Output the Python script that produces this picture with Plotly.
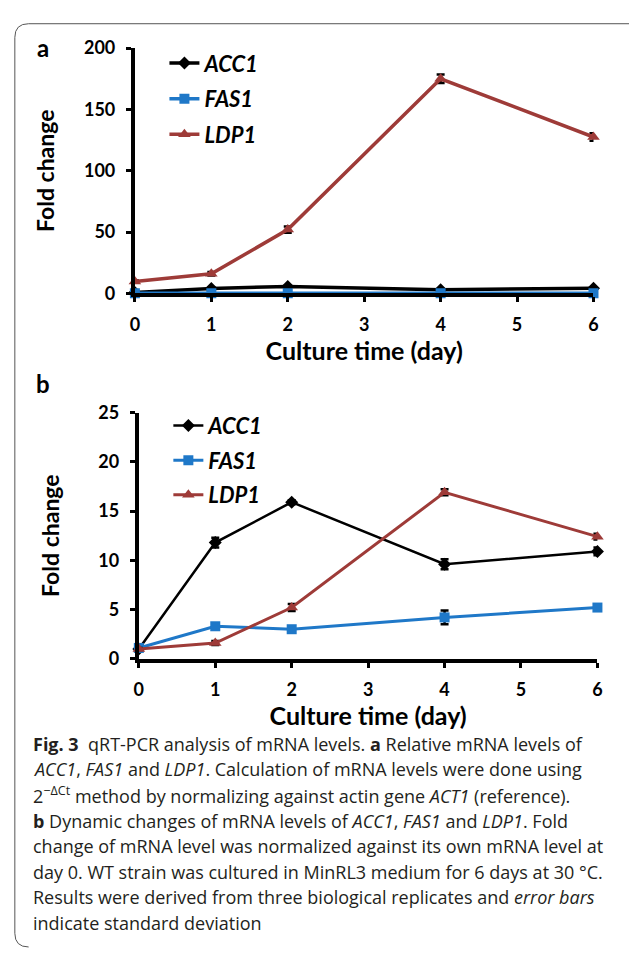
import plotly.graph_objects as go

W, H = 629, 956

days = [0, 1, 2, 4, 6]
x_ticks = [0, 1, 2, 3, 4, 5, 6]

# Panel a: relative mRNA levels
a_acc1 = [0.8, 4.0, 5.6, 3.0, 4.2]
a_acc1_err = [0.3, 0.8, 0.8, 0.6, 0.6]
a_fas1 = [0.1, 0.1, 0.1, 0.1, 0.1]
a_fas1_err = [0.05, 0.05, 0.05, 0.05, 0.05]
a_ldp1 = [9.6, 16.0, 52.0, 175.0, 127.5]
a_ldp1_err = [1.0, 1.5, 2.5, 3.5, 3.0]
a_yticks = [0, 50, 100, 150, 200]

# Panel b: fold change vs day 0
b_acc1 = [1.0, 11.8, 15.9, 9.6, 10.9]
b_acc1_err = [0.1, 0.5, 0.2, 0.5, 0.4]
b_fas1 = [1.1, 3.3, 3.0, 4.2, 5.2]
b_fas1_err = [0.1, 0.2, 0.2, 0.7, 0.25]
b_ldp1 = [1.0, 1.6, 5.2, 16.9, 12.4]
b_ldp1_err = [0.1, 0.2, 0.35, 0.3, 0.3]
b_yticks = [0, 5, 10, 15, 20, 25]

genes = ["ACC1", "FAS1", "LDP1"]
colors = ["#000000", "#1f78c8", "#9e3b38"]
symbols = ["diamond", "square", "triangle-up"]

caption_lines = [
    "<b>Fig. 3</b>  qRT-PCR analysis of mRNA levels. <b>a</b> Relative mRNA levels of",
    "<i>ACC1</i>, <i>FAS1</i> and <i>LDP1</i>. Calculation of mRNA levels were done using",
    "2<sup>−ΔCt</sup> method by normalizing against actin gene <i>ACT1</i> (reference).",
    "<b>b</b> Dynamic changes of mRNA levels of <i>ACC1</i>, <i>FAS1</i> and <i>LDP1</i>. Fold",
    "change of mRNA level was normalized against its own mRNA level at",
    "day 0. WT strain was cultured in MinRL3 medium for 6 days at 30 °C.",
    "Results were derived from three biological replicates and <i>error bars</i>",
    "indicate standard deviation",
]

def px_x(p):
    return p / W

def px_y(p):
    return 1 - p / H

FONT = "Lato"
fig = go.Figure()

panels = [
    ("x", "y", "legend", [a_acc1, a_fas1, a_ldp1], [a_acc1_err, a_fas1_err, a_ldp1_err], [3.5, 3.5, 3.5]),
    ("x2", "y2", "legend2", [b_acc1, b_fas1, b_ldp1], [b_acc1_err, b_fas1_err, b_ldp1_err], [2.5, 3.0, 3.0]),
]
for xa, ya, lg, vals, errs, lws in panels:
    for g, c, s, v, e, lw in zip(genes, colors, symbols, vals, errs, lws):
        fig.add_trace(go.Scatter(
            x=days, y=v, xaxis=xa, yaxis=ya, mode="lines+markers",
            name=f"<b><i>{g}</i></b>", legend=lg, legendgroup=lg + g,
            line=dict(color=c, width=lw),
            marker=dict(symbol=s, size=10 if s != "triangle-up" else 11, color=c),
            error_y=dict(type="data", array=e, color="#000000", thickness=2.5, width=4),
            cliponaxis=False,
        ))

axis_common = dict(
    showline=True, linecolor="black", linewidth=4, ticks="outside",
    tickcolor="black", tickwidth=3, ticklen=5, showgrid=False, zeroline=False,
    ticklabelstandoff=7,
    tickfont=dict(family=FONT, size=18, color="black", weight="bold"),
)

def xtitle(standoff):
    return dict(text="<b>Culture time (day)</b>", font=dict(family=FONT, size=25, color="black"),
                standoff=standoff)

def ytitle(standoff):
    return dict(text="<b>Fold change</b>", font=dict(family=FONT, size=23, color="black"),
                standoff=standoff)

fig.update_layout(
    width=W, height=H, margin=dict(l=0, r=0, t=0, b=0),
    paper_bgcolor="white", plot_bgcolor="white", showlegend=True,
    xaxis=dict(domain=[px_x(132), px_x(598)], range=[0, 6], tickvals=x_ticks,
               anchor="y", **axis_common, title=xtitle(10)),
    yaxis=dict(domain=[px_y(288), px_y(37)], range=[0, 200], tickvals=a_yticks,
               anchor="x", **axis_common, title=ytitle(24)),
    xaxis2=dict(domain=[px_x(136), px_x(602)], range=[0, 6], tickvals=x_ticks,
                anchor="y2", **axis_common, title=xtitle(6)),
    yaxis2=dict(domain=[px_y(662), px_y(410)], range=[0, 25], tickvals=b_yticks,
                anchor="x2", **axis_common, title=ytitle(33)),
    legend=dict(x=px_x(162), y=px_y(31), xanchor="left", yanchor="top",
                font=dict(family=FONT, size=22, color="black"), tracegroupgap=4,
                bgcolor="rgba(0,0,0,0)", itemwidth=30),
    legend2=dict(x=px_x(166), y=px_y(402), xanchor="left", yanchor="top",
                 font=dict(family=FONT, size=22, color="black"), tracegroupgap=3,
                 bgcolor="rgba(0,0,0,0)", itemwidth=30),
)

# panel letters
fig.add_annotation(text="<b>a</b>", x=px_x(39), y=px_y(36), xref="paper", yref="paper",
                   xanchor="center", yanchor="middle",
                   showarrow=False, font=dict(family=FONT, size=24, color="black"))
fig.add_annotation(text="<b>b</b>", x=px_x(39), y=px_y(380), xref="paper", yref="paper",
                   xanchor="center", yanchor="middle",
                   showarrow=False, font=dict(family=FONT, size=24, color="black"))

# caption
for i, line in enumerate(caption_lines):
    fig.add_annotation(text=line, x=px_x(26), y=px_y(749 + 26.2 * i), xref="paper", yref="paper",
                       xanchor="left", yanchor="middle", showarrow=False, align="left",
                       font=dict(family="Open Sans", size=18, color="#231f20"))

# outer rounded border
r = 14
path = (f"M {px_x(10 + r)},{px_y(957)} Q {px_x(10)},{px_y(957)} {px_x(10)},{px_y(957 - r)} "
        f"L {px_x(10)},{px_y(12 + r)} "
        f"Q {px_x(10)},{px_y(12)} {px_x(10 + r)},{px_y(12)} L {px_x(640)},{px_y(12)}")
fig.add_shape(type="path", path=path, xref="paper", yref="paper",
              line=dict(color="#555555", width=1))

fig.write_html("out.html", config={"displayModeBar": False},
               post_script="document.body.style.margin='0';document.body.style.overflow='hidden';")
